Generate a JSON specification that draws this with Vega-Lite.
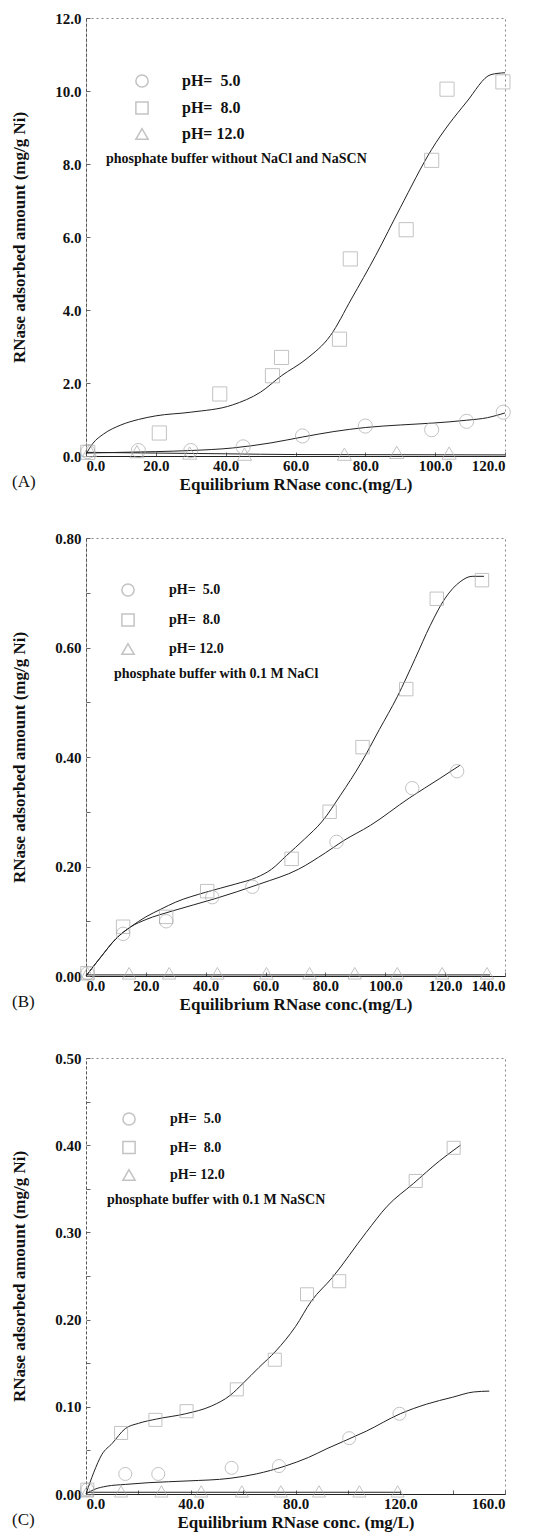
{
  "$schema": "https://vega.github.io/schema/vega-lite/v6.json",
  "padding": {"top": 10, "left": 10, "right": 5, "bottom": 5},
  "background": "white",
  "bounds": "flush",
  "spacing": 82,
  "config": {
    "font": "Liberation Serif",
    "view": {"stroke": "#888", "strokeDash": [2, 3], "strokeWidth": 1},
    "axis": {
      "labelFont": "Liberation Serif", "labelFontWeight": "bold", "labelFontSize": 15, "labelColor": "#111",
      "titleFont": "Liberation Serif", "titleFontWeight": "bold", "titleFontSize": 17, "titleColor": "#111",
      "domainColor": "#222", "tickColor": "#666", "grid": false, "labelOverlap": false
    },
    "axisX": {"tickSize": -4, "labelPadding": 6, "titlePadding": 3},
    "axisY": {"tickSize": -4, "labelPadding": 9, "titlePadding": 26, "domainDash": [3, 2], "domainColor": "#555"},
    "legend": {
      "orient": "none", "titleOrient": "bottom", "titleAnchor": "start",
      "titleFont": "Liberation Serif", "titleFontWeight": "bold", "titleFontSize": 14, "titleColor": "#111",
      "labelFont": "Liberation Serif", "labelFontWeight": "bold", "labelFontSize": 14, "labelColor": "#111",
      "symbolSize": 150, "rowPadding": 8.5, "padding": 0, "titlePadding": 10, "titleLimit": 400, "labelLimit": 200
    },
    "title": {"font": "Liberation Serif", "fontSize": 17, "fontWeight": "normal", "color": "#111"}
  },
  "datasets": {
    "points": [
      {"panel": "A", "ph": "8.0", "x": 0.5, "y": 0.1},
      {"panel": "A", "ph": "8.0", "x": 21, "y": 0.63},
      {"panel": "A", "ph": "8.0", "x": 38.3, "y": 1.7},
      {"panel": "A", "ph": "8.0", "x": 53.4, "y": 2.2},
      {"panel": "A", "ph": "8.0", "x": 56, "y": 2.7},
      {"panel": "A", "ph": "8.0", "x": 72.6, "y": 3.2},
      {"panel": "A", "ph": "8.0", "x": 75.7, "y": 5.4},
      {"panel": "A", "ph": "8.0", "x": 91.7, "y": 6.2},
      {"panel": "A", "ph": "8.0", "x": 99, "y": 8.1},
      {"panel": "A", "ph": "8.0", "x": 103.4, "y": 10.05},
      {"panel": "A", "ph": "8.0", "x": 119.4, "y": 10.25},
      {"panel": "A", "ph": "5.0", "x": 0.5, "y": 0.12},
      {"panel": "A", "ph": "5.0", "x": 15, "y": 0.15},
      {"panel": "A", "ph": "5.0", "x": 30, "y": 0.15},
      {"panel": "A", "ph": "5.0", "x": 45, "y": 0.25},
      {"panel": "A", "ph": "5.0", "x": 62, "y": 0.55},
      {"panel": "A", "ph": "5.0", "x": 80, "y": 0.82},
      {"panel": "A", "ph": "5.0", "x": 99, "y": 0.72},
      {"panel": "A", "ph": "5.0", "x": 109, "y": 0.95},
      {"panel": "A", "ph": "5.0", "x": 119.5, "y": 1.2},
      {"panel": "A", "ph": "12.0", "x": 1, "y": 0.15},
      {"panel": "A", "ph": "12.0", "x": 14.6, "y": 0.12},
      {"panel": "A", "ph": "12.0", "x": 29.7, "y": 0.08},
      {"panel": "A", "ph": "12.0", "x": 45.4, "y": 0.05},
      {"panel": "A", "ph": "12.0", "x": 74, "y": 0.05},
      {"panel": "A", "ph": "12.0", "x": 89, "y": 0.1},
      {"panel": "A", "ph": "12.0", "x": 104, "y": 0.08},
      {"panel": "B", "ph": "8.0", "x": 0.5, "y": 0.005},
      {"panel": "B", "ph": "8.0", "x": 12.4, "y": 0.09},
      {"panel": "B", "ph": "8.0", "x": 26.8, "y": 0.108},
      {"panel": "B", "ph": "8.0", "x": 40.5, "y": 0.155},
      {"panel": "B", "ph": "8.0", "x": 68.7, "y": 0.214},
      {"panel": "B", "ph": "8.0", "x": 81.4, "y": 0.3},
      {"panel": "B", "ph": "8.0", "x": 92.4, "y": 0.418},
      {"panel": "B", "ph": "8.0", "x": 107, "y": 0.524},
      {"panel": "B", "ph": "8.0", "x": 117.2, "y": 0.689},
      {"panel": "B", "ph": "8.0", "x": 132.3, "y": 0.723},
      {"panel": "B", "ph": "5.0", "x": 0.5, "y": 0.005},
      {"panel": "B", "ph": "5.0", "x": 12.4, "y": 0.077},
      {"panel": "B", "ph": "5.0", "x": 26.8, "y": 0.1},
      {"panel": "B", "ph": "5.0", "x": 42.2, "y": 0.144},
      {"panel": "B", "ph": "5.0", "x": 55.6, "y": 0.163},
      {"panel": "B", "ph": "5.0", "x": 83.7, "y": 0.245},
      {"panel": "B", "ph": "5.0", "x": 109, "y": 0.343},
      {"panel": "B", "ph": "5.0", "x": 124, "y": 0.374},
      {"panel": "B", "ph": "12.0", "x": 0.5, "y": 0.005},
      {"panel": "B", "ph": "12.0", "x": 14.4, "y": 0.005},
      {"panel": "B", "ph": "12.0", "x": 27.8, "y": 0.005},
      {"panel": "B", "ph": "12.0", "x": 43.9, "y": 0.005},
      {"panel": "B", "ph": "12.0", "x": 60.3, "y": 0.005},
      {"panel": "B", "ph": "12.0", "x": 74.7, "y": 0.005},
      {"panel": "B", "ph": "12.0", "x": 89.8, "y": 0.005},
      {"panel": "B", "ph": "12.0", "x": 104, "y": 0.005},
      {"panel": "B", "ph": "12.0", "x": 119, "y": 0.005},
      {"panel": "B", "ph": "12.0", "x": 134, "y": 0.005},
      {"panel": "C", "ph": "8.0", "x": 0.5, "y": 0.005},
      {"panel": "C", "ph": "8.0", "x": 13.4, "y": 0.07},
      {"panel": "C", "ph": "8.0", "x": 26.5, "y": 0.085},
      {"panel": "C", "ph": "8.0", "x": 38.4, "y": 0.095},
      {"panel": "C", "ph": "8.0", "x": 57.6, "y": 0.12},
      {"panel": "C", "ph": "8.0", "x": 72.1, "y": 0.154},
      {"panel": "C", "ph": "8.0", "x": 84.4, "y": 0.229},
      {"panel": "C", "ph": "8.0", "x": 96.7, "y": 0.244},
      {"panel": "C", "ph": "8.0", "x": 125.9, "y": 0.359},
      {"panel": "C", "ph": "8.0", "x": 140.4, "y": 0.397},
      {"panel": "C", "ph": "5.0", "x": 0.5, "y": 0.005},
      {"panel": "C", "ph": "5.0", "x": 15, "y": 0.023},
      {"panel": "C", "ph": "5.0", "x": 27.6, "y": 0.023},
      {"panel": "C", "ph": "5.0", "x": 55.6, "y": 0.03},
      {"panel": "C", "ph": "5.0", "x": 73.7, "y": 0.032},
      {"panel": "C", "ph": "5.0", "x": 100.5, "y": 0.064},
      {"panel": "C", "ph": "5.0", "x": 119.7, "y": 0.092},
      {"panel": "C", "ph": "12.0", "x": 0.5, "y": 0.003},
      {"panel": "C", "ph": "12.0", "x": 13.4, "y": 0.003},
      {"panel": "C", "ph": "12.0", "x": 28.8, "y": 0.003},
      {"panel": "C", "ph": "12.0", "x": 44, "y": 0.003},
      {"panel": "C", "ph": "12.0", "x": 59.5, "y": 0.003},
      {"panel": "C", "ph": "12.0", "x": 74.4, "y": 0.003},
      {"panel": "C", "ph": "12.0", "x": 89, "y": 0.003},
      {"panel": "C", "ph": "12.0", "x": 104.4, "y": 0.003},
      {"panel": "C", "ph": "12.0", "x": 119, "y": 0.003}
    ],
    "curves": [
      {"panel": "A", "ph": "8.0", "x": 0, "y": 0.05},
      {"panel": "A", "ph": "8.0", "x": 2, "y": 0.35},
      {"panel": "A", "ph": "8.0", "x": 5, "y": 0.6},
      {"panel": "A", "ph": "8.0", "x": 10, "y": 0.85},
      {"panel": "A", "ph": "8.0", "x": 15, "y": 1.0},
      {"panel": "A", "ph": "8.0", "x": 20, "y": 1.1},
      {"panel": "A", "ph": "8.0", "x": 30, "y": 1.2},
      {"panel": "A", "ph": "8.0", "x": 42, "y": 1.4},
      {"panel": "A", "ph": "8.0", "x": 50, "y": 1.75},
      {"panel": "A", "ph": "8.0", "x": 56, "y": 2.2},
      {"panel": "A", "ph": "8.0", "x": 63, "y": 2.65},
      {"panel": "A", "ph": "8.0", "x": 70, "y": 3.3},
      {"panel": "A", "ph": "8.0", "x": 76, "y": 4.3},
      {"panel": "A", "ph": "8.0", "x": 83, "y": 5.5},
      {"panel": "A", "ph": "8.0", "x": 90, "y": 6.8},
      {"panel": "A", "ph": "8.0", "x": 99, "y": 8.4},
      {"panel": "A", "ph": "8.0", "x": 109, "y": 9.7},
      {"panel": "A", "ph": "8.0", "x": 116, "y": 10.45},
      {"panel": "A", "ph": "8.0", "x": 120, "y": 10.5},
      {"panel": "A", "ph": "5.0", "x": 0, "y": 0.08},
      {"panel": "A", "ph": "5.0", "x": 10, "y": 0.1},
      {"panel": "A", "ph": "5.0", "x": 20, "y": 0.12},
      {"panel": "A", "ph": "5.0", "x": 30, "y": 0.15},
      {"panel": "A", "ph": "5.0", "x": 42, "y": 0.22},
      {"panel": "A", "ph": "5.0", "x": 53, "y": 0.36},
      {"panel": "A", "ph": "5.0", "x": 62, "y": 0.52},
      {"panel": "A", "ph": "5.0", "x": 71, "y": 0.67},
      {"panel": "A", "ph": "5.0", "x": 80, "y": 0.78},
      {"panel": "A", "ph": "5.0", "x": 90, "y": 0.85},
      {"panel": "A", "ph": "5.0", "x": 99, "y": 0.9},
      {"panel": "A", "ph": "5.0", "x": 109, "y": 0.98},
      {"panel": "A", "ph": "5.0", "x": 115, "y": 1.05},
      {"panel": "A", "ph": "5.0", "x": 120, "y": 1.18},
      {"panel": "A", "ph": "12.0", "x": 0, "y": 0.1},
      {"panel": "A", "ph": "12.0", "x": 20, "y": 0.08},
      {"panel": "A", "ph": "12.0", "x": 40, "y": 0.06},
      {"panel": "A", "ph": "12.0", "x": 60, "y": 0.04},
      {"panel": "A", "ph": "12.0", "x": 120, "y": 0.03},
      {"panel": "B", "ph": "8.0", "x": 0, "y": 0},
      {"panel": "B", "ph": "8.0", "x": 5, "y": 0.035},
      {"panel": "B", "ph": "8.0", "x": 10, "y": 0.068},
      {"panel": "B", "ph": "8.0", "x": 15, "y": 0.09},
      {"panel": "B", "ph": "8.0", "x": 20, "y": 0.108},
      {"panel": "B", "ph": "8.0", "x": 25, "y": 0.122},
      {"panel": "B", "ph": "8.0", "x": 30, "y": 0.135},
      {"panel": "B", "ph": "8.0", "x": 40, "y": 0.153},
      {"panel": "B", "ph": "8.0", "x": 50, "y": 0.168},
      {"panel": "B", "ph": "8.0", "x": 57, "y": 0.18},
      {"panel": "B", "ph": "8.0", "x": 62, "y": 0.195},
      {"panel": "B", "ph": "8.0", "x": 67, "y": 0.22},
      {"panel": "B", "ph": "8.0", "x": 73, "y": 0.25},
      {"panel": "B", "ph": "8.0", "x": 79, "y": 0.283},
      {"panel": "B", "ph": "8.0", "x": 85, "y": 0.33},
      {"panel": "B", "ph": "8.0", "x": 92, "y": 0.39},
      {"panel": "B", "ph": "8.0", "x": 98, "y": 0.45},
      {"panel": "B", "ph": "8.0", "x": 104, "y": 0.51},
      {"panel": "B", "ph": "8.0", "x": 110, "y": 0.58},
      {"panel": "B", "ph": "8.0", "x": 115, "y": 0.64},
      {"panel": "B", "ph": "8.0", "x": 120, "y": 0.69},
      {"panel": "B", "ph": "8.0", "x": 125, "y": 0.72},
      {"panel": "B", "ph": "8.0", "x": 129, "y": 0.73},
      {"panel": "B", "ph": "8.0", "x": 133, "y": 0.73},
      {"panel": "B", "ph": "5.0", "x": 0, "y": 0},
      {"panel": "B", "ph": "5.0", "x": 5, "y": 0.035},
      {"panel": "B", "ph": "5.0", "x": 10, "y": 0.068},
      {"panel": "B", "ph": "5.0", "x": 15, "y": 0.09},
      {"panel": "B", "ph": "5.0", "x": 20, "y": 0.103},
      {"panel": "B", "ph": "5.0", "x": 29, "y": 0.119},
      {"panel": "B", "ph": "5.0", "x": 43, "y": 0.141},
      {"panel": "B", "ph": "5.0", "x": 58, "y": 0.168},
      {"panel": "B", "ph": "5.0", "x": 71, "y": 0.195},
      {"panel": "B", "ph": "5.0", "x": 80, "y": 0.225},
      {"panel": "B", "ph": "5.0", "x": 86, "y": 0.247},
      {"panel": "B", "ph": "5.0", "x": 95, "y": 0.275},
      {"panel": "B", "ph": "5.0", "x": 108, "y": 0.325},
      {"panel": "B", "ph": "5.0", "x": 118, "y": 0.36},
      {"panel": "B", "ph": "5.0", "x": 125, "y": 0.385},
      {"panel": "B", "ph": "12.0", "x": 0, "y": 0.002},
      {"panel": "B", "ph": "12.0", "x": 135, "y": 0.002},
      {"panel": "C", "ph": "8.0", "x": 0, "y": 0},
      {"panel": "C", "ph": "8.0", "x": 3, "y": 0.025},
      {"panel": "C", "ph": "8.0", "x": 6, "y": 0.045},
      {"panel": "C", "ph": "8.0", "x": 10, "y": 0.058},
      {"panel": "C", "ph": "8.0", "x": 15, "y": 0.075},
      {"panel": "C", "ph": "8.0", "x": 20, "y": 0.081},
      {"panel": "C", "ph": "8.0", "x": 27, "y": 0.086},
      {"panel": "C", "ph": "8.0", "x": 38, "y": 0.092},
      {"panel": "C", "ph": "8.0", "x": 48, "y": 0.101},
      {"panel": "C", "ph": "8.0", "x": 55, "y": 0.113},
      {"panel": "C", "ph": "8.0", "x": 60, "y": 0.127},
      {"panel": "C", "ph": "8.0", "x": 66, "y": 0.145},
      {"panel": "C", "ph": "8.0", "x": 72.5, "y": 0.164},
      {"panel": "C", "ph": "8.0", "x": 80, "y": 0.192},
      {"panel": "C", "ph": "8.0", "x": 86, "y": 0.221},
      {"panel": "C", "ph": "8.0", "x": 94, "y": 0.248},
      {"panel": "C", "ph": "8.0", "x": 107, "y": 0.3},
      {"panel": "C", "ph": "8.0", "x": 115, "y": 0.33},
      {"panel": "C", "ph": "8.0", "x": 125, "y": 0.356},
      {"panel": "C", "ph": "8.0", "x": 135, "y": 0.382},
      {"panel": "C", "ph": "8.0", "x": 143, "y": 0.4},
      {"panel": "C", "ph": "5.0", "x": 0, "y": 0},
      {"panel": "C", "ph": "5.0", "x": 3, "y": 0.005},
      {"panel": "C", "ph": "5.0", "x": 8, "y": 0.009},
      {"panel": "C", "ph": "5.0", "x": 15, "y": 0.011},
      {"panel": "C", "ph": "5.0", "x": 24, "y": 0.013},
      {"panel": "C", "ph": "5.0", "x": 39, "y": 0.015},
      {"panel": "C", "ph": "5.0", "x": 55, "y": 0.018},
      {"panel": "C", "ph": "5.0", "x": 65, "y": 0.023},
      {"panel": "C", "ph": "5.0", "x": 76, "y": 0.032},
      {"panel": "C", "ph": "5.0", "x": 85, "y": 0.042},
      {"panel": "C", "ph": "5.0", "x": 92, "y": 0.052},
      {"panel": "C", "ph": "5.0", "x": 107, "y": 0.072},
      {"panel": "C", "ph": "5.0", "x": 120, "y": 0.092},
      {"panel": "C", "ph": "5.0", "x": 130, "y": 0.103},
      {"panel": "C", "ph": "5.0", "x": 140, "y": 0.111},
      {"panel": "C", "ph": "5.0", "x": 148, "y": 0.117},
      {"panel": "C", "ph": "5.0", "x": 154, "y": 0.118},
      {"panel": "C", "ph": "12.0", "x": 0, "y": 0.002},
      {"panel": "C", "ph": "12.0", "x": 120, "y": 0.002}
    ]
  },
  "resolve": {
    "scale": {"x": "independent", "y": "independent", "shape": "independent"},
    "legend": {"shape": "independent"}
  },
  "vconcat": [
    {
      "width": 419, "height": 438,
      "title": {"text": "(A)", "orient": "bottom", "anchor": "start", "frame": "group", "dx": -74, "offset": -18},
      "layer": [
        {
          "data": {"name": "curves"},
          "transform": [{"filter": "datum.panel == 'A'"}],
          "mark": {"type": "line", "interpolate": "monotone", "color": "#222", "strokeWidth": 1},
          "encoding": {
            "x": {"field": "x", "type": "quantitative", "scale": {"domain": [0, 120], "nice": false},
                  "axis": {"values": [0, 5, 10, 15, 20, 25, 30, 35, 40, 45, 50, 55, 60, 65, 70, 75, 80, 85, 90, 95, 100, 105, 110, 115, 120],
                           "labelExpr": "datum.value % 20 == 0 ? format(datum.value, '.1f') : ''", "title": "Equilibrium RNase conc.(mg/L)"}},
            "y": {"field": "y", "type": "quantitative", "scale": {"domain": [0, 12], "nice": false},
                  "axis": {"values": [0, 0.5, 1, 1.5, 2, 2.5, 3, 3.5, 4, 4.5, 5, 5.5, 6, 6.5, 7, 7.5, 8, 8.5, 9, 9.5, 10, 10.5, 11, 11.5, 12],
                           "labelExpr": "datum.value % 2 == 0 ? format(datum.value, '.1f') : ''", "title": "RNase adsorbed amount (mg/g Ni)"}},
            "detail": {"field": "ph"}
          }
        },
        {
          "data": {"name": "points"},
          "transform": [{"filter": "datum.panel == 'A'"}],
          "mark": {"type": "point", "filled": false, "color": "#aaa", "strokeWidth": 1, "size": 200},
          "encoding": {
            "x": {"field": "x", "type": "quantitative"},
            "y": {"field": "y", "type": "quantitative"},
            "shape": {"field": "ph", "type": "nominal",
                      "scale": {"domain": ["5.0", "8.0", "12.0"], "range": ["circle", "square", "triangle-up"]},
                      "legend": {"title": "phosphate buffer without NaCl and NaSCN", "legendX": 20, "legendY": 55, "symbolOffset": 28, "labelOffset": 32,
                                 "labelFontSize": 16, "rowPadding": 7,
                                 "labelExpr": "datum.label == '12.0' ? 'pH= 12.0' : 'pH=\u00a0\u00a0' + datum.label"}}
          }
        }
      ]
    },
    {
      "width": 419, "height": 438,
      "title": {"text": "(B)", "orient": "bottom", "anchor": "start", "frame": "group", "dx": -74, "offset": -18},
      "layer": [
        {
          "data": {"name": "curves"},
          "transform": [{"filter": "datum.panel == 'B'"}],
          "mark": {"type": "line", "interpolate": "monotone", "color": "#222", "strokeWidth": 1},
          "encoding": {
            "x": {"field": "x", "type": "quantitative", "scale": {"domain": [0, 140], "nice": false},
                  "axis": {"values": [0, 5, 10, 15, 20, 25, 30, 35, 40, 45, 50, 55, 60, 65, 70, 75, 80, 85, 90, 95, 100, 105, 110, 115, 120, 125, 130, 135, 140],
                           "labelExpr": "datum.value % 20 == 0 ? format(datum.value, '.1f') : ''", "title": "Equilibrium RNase conc.(mg/L)"}},
            "y": {"field": "y", "type": "quantitative", "scale": {"domain": [0, 0.8], "nice": false},
                  "axis": {"values": [0, 0.05, 0.1, 0.15, 0.2, 0.25, 0.3, 0.35, 0.4, 0.45, 0.5, 0.55, 0.6, 0.65, 0.7, 0.75, 0.8],
                           "labelExpr": "round(datum.value * 100) % 20 == 0 ? format(datum.value, '.2f') : ''", "title": "RNase adsorbed amount (mg/g Ni)"}},
            "detail": {"field": "ph"}
          }
        },
        {
          "data": {"name": "points"},
          "transform": [{"filter": "datum.panel == 'B'"}],
          "mark": {"type": "point", "filled": false, "color": "#aaa", "strokeWidth": 1, "size": 180},
          "encoding": {
            "x": {"field": "x", "type": "quantitative"},
            "y": {"field": "y", "type": "quantitative"},
            "shape": {"field": "ph", "type": "nominal",
                      "scale": {"domain": ["5.0", "8.0", "12.0"], "range": ["circle", "square", "triangle-up"]},
                      "legend": {"title": "phosphate buffer with 0.1 M NaCl", "legendX": 28, "legendY": 45, "symbolOffset": 7, "labelOffset": 34,
                                 "rowPadding": 10,
                                 "labelExpr": "datum.label == '12.0' ? 'pH= 12.0' : 'pH=\u00a0\u00a0' + datum.label"}}
          }
        }
      ]
    },
    {
      "width": 419, "height": 436,
      "title": {"text": "(C)", "orient": "bottom", "anchor": "start", "frame": "group", "dx": -74, "offset": -18},
      "layer": [
        {
          "data": {"name": "curves"},
          "transform": [{"filter": "datum.panel == 'C'"}],
          "mark": {"type": "line", "interpolate": "monotone", "color": "#222", "strokeWidth": 1},
          "encoding": {
            "x": {"field": "x", "type": "quantitative", "scale": {"domain": [0, 160], "nice": false},
                  "axis": {"values": [0, 10, 20, 30, 40, 50, 60, 70, 80, 90, 100, 110, 120, 130, 140, 150, 160],
                           "labelExpr": "datum.value % 40 == 0 ? format(datum.value, '.1f') : ''", "title": "Equilibrium RNase conc. (mg/L)"}},
            "y": {"field": "y", "type": "quantitative", "scale": {"domain": [0, 0.5], "nice": false},
                  "axis": {"values": [0, 0.025, 0.05, 0.075, 0.1, 0.125, 0.15, 0.175, 0.2, 0.225, 0.25, 0.275, 0.3, 0.325, 0.35, 0.375, 0.4, 0.425, 0.45, 0.475, 0.5],
                           "labelExpr": "round(datum.value * 1000) % 100 == 0 ? format(datum.value, '.2f') : ''", "title": "RNase adsorbed amount (mg/g Ni)"}},
            "detail": {"field": "ph"}
          }
        },
        {
          "data": {"name": "points"},
          "transform": [{"filter": "datum.panel == 'C'"}],
          "mark": {"type": "point", "filled": false, "color": "#aaa", "strokeWidth": 1, "size": 170},
          "encoding": {
            "x": {"field": "x", "type": "quantitative"},
            "y": {"field": "y", "type": "quantitative"},
            "shape": {"field": "ph", "type": "nominal",
                      "scale": {"domain": ["5.0", "8.0", "12.0"], "range": ["circle", "square", "triangle-up"]},
                      "legend": {"title": "phosphate buffer with 0.1 M NaSCN", "legendX": 21, "legendY": 54, "symbolOffset": 15, "labelOffset": 34,
                                 "labelExpr": "datum.label == '12.0' ? 'pH= 12.0' : 'pH=\u00a0\u00a0' + datum.label"}}
          }
        }
      ]
    }
  ]
}
